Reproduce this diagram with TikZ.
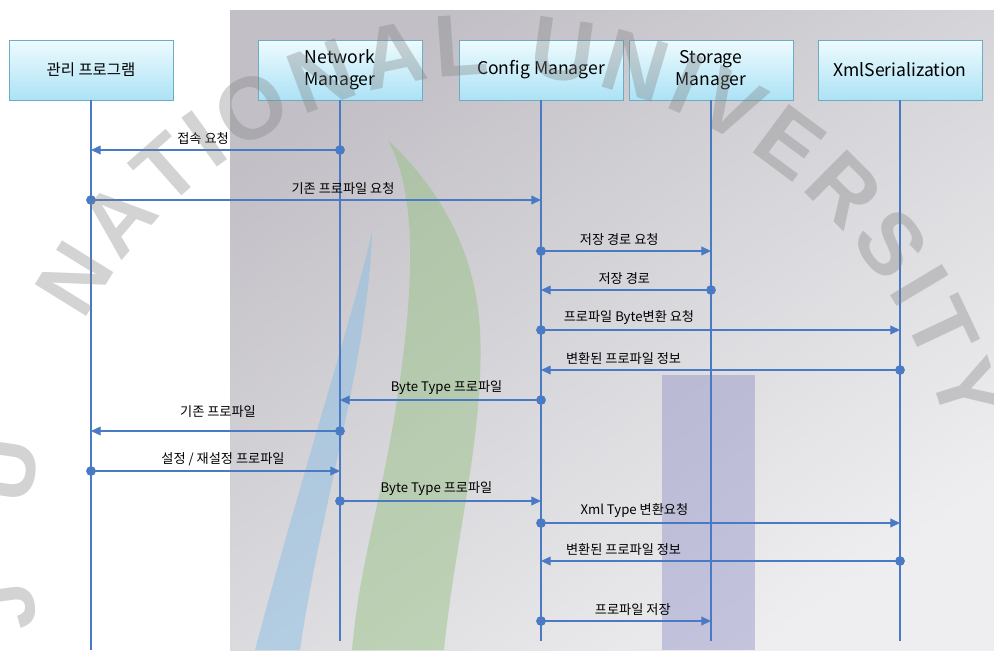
\documentclass[tikz,border=0pt]{standalone}
\usepackage{fontspec}
\setmainfont{Noto Sans CJK KR}
\newfontfamily\sealfont{Liberation Sans}
\usetikzlibrary{arrows.meta,shadows,decorations.text}

\definecolor{lineblue}{RGB}{74,122,196}
\definecolor{boxtop}{RGB}{238,251,254}
\definecolor{boxbot}{RGB}{172,226,245}
\definecolor{boxline}{RGB}{110,172,196}
\definecolor{paneltop}{RGB}{194,192,198}
\definecolor{panelbot}{RGB}{238,238,240}
\definecolor{wmblue}{RGB}{130,188,230}
\definecolor{wmgreen}{RGB}{145,192,125}
\definecolor{wmpurple}{RGB}{145,145,200}

\tikzset{
  actor/.style={rectangle, draw=boxline, top color=boxtop, bottom color=boxbot,
    minimum width=3.28cm, minimum height=1.2cm, text centered, align=center,
    font=\fontsize{10}{12.5}\selectfont,
    drop shadow={shadow xshift=0.6pt, shadow yshift=-0.8pt, opacity=0.35}},
  lifeline/.style={draw=lineblue, line width=0.7pt},
  msg/.style={draw=lineblue, line width=0.7pt,
    {Circle[length=5.5pt]}-{Triangle[length=5.5pt,width=5pt]}, shorten <=-2.75pt},
  lbl/.style={above, inner sep=2.5pt, font=\fontsize{7.5}{9}\selectfont},
  sealtext/.style={decorate, decoration={text along path, text align={fit to path},
    text color=gray, text={|\sealfont\bfseries\fontsize{50}{50}\selectfont|#1}}}
}

\begin{document}
\begin{tikzpicture}[x=0.02cm, y=-0.02cm]
\useasboundingbox (0,0) rectangle (994,650);

% grey panel with the emblem stripes behind the chart
\shade[top color=paneltop, bottom color=panelbot, shading angle=35] (230,10) rectangle (994,650);
\begin{scope}[opacity=0.45]
\fill[wmgreen] (388,140) .. controls (420,200) and (412,300) .. (397,400)
  .. controls (382,500) and (360,560) .. (352,650) -- (444,650)
  .. controls (455,540) and (485,430) .. (480,330)
  .. controls (475,240) and (430,180) .. (388,140) -- cycle;
\fill[wmblue] (372,232) .. controls (352,320) and (300,480) .. (255,650) -- (300,650)
  .. controls (322,500) and (368,360) .. (372,232) -- cycle;
\fill[wmpurple] (662,375) rectangle (755,650);
\end{scope}

% objects
\node (mgr) [actor, font=\fontsize{8.8}{10.5}\selectfont] at (91,70) {관리 프로그램};
\node (net) [actor] at (340,70) {Network\\Manager};
\node (cfg) [actor] at (541,70) {Config Manager};
\node (stg) [actor] at (711,70) {Storage\\Manager};
\node (xml) [actor] at (900,70) {XmlSerialization};

% lifelines
\draw[lifeline] (mgr) -- (mgr |- 0,650);
\draw[lifeline] (net) -- (net |- 0,641);
\draw[lifeline] (cfg) -- (cfg |- 0,641);
\draw[lifeline] (stg) -- (stg |- 0,641);
\draw[lifeline] (xml) -- (xml |- 0,641);

% messages
\draw[msg] (net |- 0,150) -- node[lbl, pos=0.55] {접속 요청} (mgr |- 0,150);
\draw[msg] (mgr |- 0,200) -- node[lbl, pos=0.56] {기존 프로파일 요청} (cfg |- 0,200);
\draw[msg] (cfg |- 0,251) -- node[lbl, pos=0.46] {저장 경로 요청} (stg |- 0,251);
\draw[msg] (stg |- 0,290) -- node[lbl, pos=0.51] {저장 경로} (cfg |- 0,290);
\draw[msg] (cfg |- 0,330) -- node[lbl, pos=0.245] {프로파일 Byte변환 요청} (xml |- 0,330);
\draw[msg] (xml |- 0,370) -- node[lbl, pos=0.77] {변환된 프로파일 정보} (cfg |- 0,370);
\draw[msg] (cfg |- 0,400) -- node[lbl, pos=0.47] {Byte Type 프로파일} (net |- 0,400);
\draw[msg] (net |- 0,431) -- node[lbl, pos=0.49, yshift=5pt] {기존 프로파일} (mgr |- 0,431);
\draw[msg] (mgr |- 0,471) -- node[lbl, pos=0.53] {설정 / 재설정 프로파일} (net |- 0,471);
\draw[msg] (net |- 0,501) -- node[lbl, pos=0.48] {Byte Type 프로파일} (cfg |- 0,501);
\draw[msg] (cfg |- 0,523) -- node[lbl, pos=0.26] {Xml Type 변환요청} (xml |- 0,523);
\draw[msg] (xml |- 0,561) -- node[lbl, pos=0.77] {변환된 프로파일 정보} (cfg |- 0,561);
\draw[msg] (cfg |- 0,621) -- node[lbl, pos=0.54] {프로파일 저장} (stg |- 0,621);

% seal lettering laid over the chart
\begin{scope}[shift={(495,540)}, x=1cm, y=1cm, opacity=0.35]
\path[sealtext={NATIONAL UNIVERSITY}]
  (152:9.3) arc[start angle=152, end angle=14, radius=9.3];
\path[sealtext={JEJU}]
  (222:9.3) arc[start angle=222, end angle=168, radius=9.3];
\end{scope}
\end{tikzpicture}
\end{document}
